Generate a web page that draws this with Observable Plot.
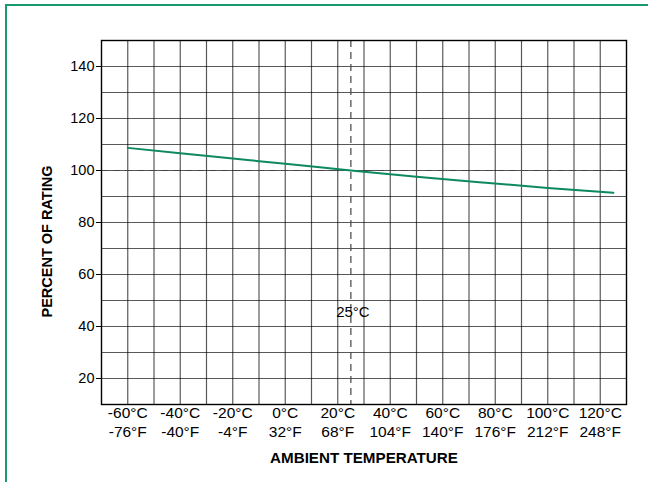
<!DOCTYPE html>
<html>
<head>
<meta charset="utf-8">
<script src="https://cdn.jsdelivr.net/npm/d3@7"></script>
<script src="https://cdn.jsdelivr.net/npm/@observablehq/plot@0.6"></script>
<style>
  html, body { margin: 0; padding: 0; background: #fff; }
  #wrap { position: relative; width: 648px; height: 482px; overflow: hidden; }
  #border { position: absolute; left: 5px; top: 4px; right: -10px; bottom: -10px;
            border-top: 2px solid #179a6c; border-left: 2px solid #179a6c; }
  #chart { position: absolute; left: 0; top: 0; }
</style>
</head>
<body>
<div id="wrap"><div id="border"></div><div id="chart"></div></div>
<script>
// Derating curve: ambient temperature (°C) vs percent of rating
const tempC = [-60, -40, -20, 0, 25, 50, 75, 100, 125];
const percent = [108.7, 106.6, 104.6, 102.6, 100, 97.6, 95.4, 93.3, 91.4];

const xTicksC = [-60, -40, -20, 0, 20, 40, 60, 80, 100, 120];
const xTicksF = [-76, -40, -4, 32, 68, 104, 140, 176, 212, 248];
const yTicks = [20, 40, 60, 80, 100, 120, 140];
const xGrid = [-60, -50, -40, -30, -20, -10, 0, 10, 20, 30, 40, 50, 60, 70, 80, 90, 100, 110, 120];
const yGrid = [20, 30, 40, 50, 60, 70, 80, 90, 100, 110, 120, 130, 140];
const refTemp = 25;
const refPercent = 100;

const data = tempC.map((t, i) => ({t, p: percent[i]}));
const fMap = new Map(xTicksC.map((c, i) => [c, xTicksF[i]]));

const chart = Plot.plot({
  width: 648,
  height: 482,
  marginLeft: 101,
  marginRight: 22,
  marginTop: 40,
  marginBottom: 78,
  style: {fontFamily: "'Liberation Sans', Arial, sans-serif", background: "transparent", color: "#000"},
  x: {domain: [-70, 130]},
  y: {domain: [10, 150]},
  marks: [
    Plot.gridX(xGrid, {stroke: "#000", strokeOpacity: 0.65, strokeWidth: 1.2}),
    Plot.gridY(yGrid, {stroke: "#000", strokeOpacity: 0.65, strokeWidth: 1.2}),
    Plot.ruleY([refPercent], {stroke: "#444", strokeDasharray: "7,5", strokeWidth: 1.2}),
    Plot.ruleX([refTemp], {stroke: "#444", strokeDasharray: "7,5", strokeWidth: 1.2}),
    Plot.frame({stroke: "#000", strokeWidth: 1.4}),
    Plot.line(data, {x: "t", y: "p", stroke: "#0c8a5e", strokeWidth: 2, curve: "monotone-x"}),
    Plot.text([`${refTemp}°C`], {x: refTemp, y: 45.4, fontSize: 15, fill: "#000", textAnchor: "middle", dx: 2}),
    Plot.axisY(yTicks, {tickSize: 5, tickPadding: 2, fontSize: 14.5, label: null, stroke: "#000"}),
    Plot.axisX(xTicksC, {tickSize: 0, tickPadding: 0, fontSize: 15.5, label: null, lineHeight: 1.22,
      tickFormat: d => `${d}°C\n${fMap.get(d)}°F`}),
    Plot.text(["AMBIENT TEMPERATURE"], {frameAnchor: "bottom", dy: 58, fontSize: 15.2, fontWeight: "bold", fill: "#000"}),
    Plot.text(["PERCENT OF RATING"], {frameAnchor: "left", textAnchor: "middle", dx: -54, dy: 19, rotate: -90, fontSize: 14.5, fontWeight: "bold", fill: "#000"})
  ]
});
document.getElementById("chart").appendChild(chart);
</script>
</body>
</html>
